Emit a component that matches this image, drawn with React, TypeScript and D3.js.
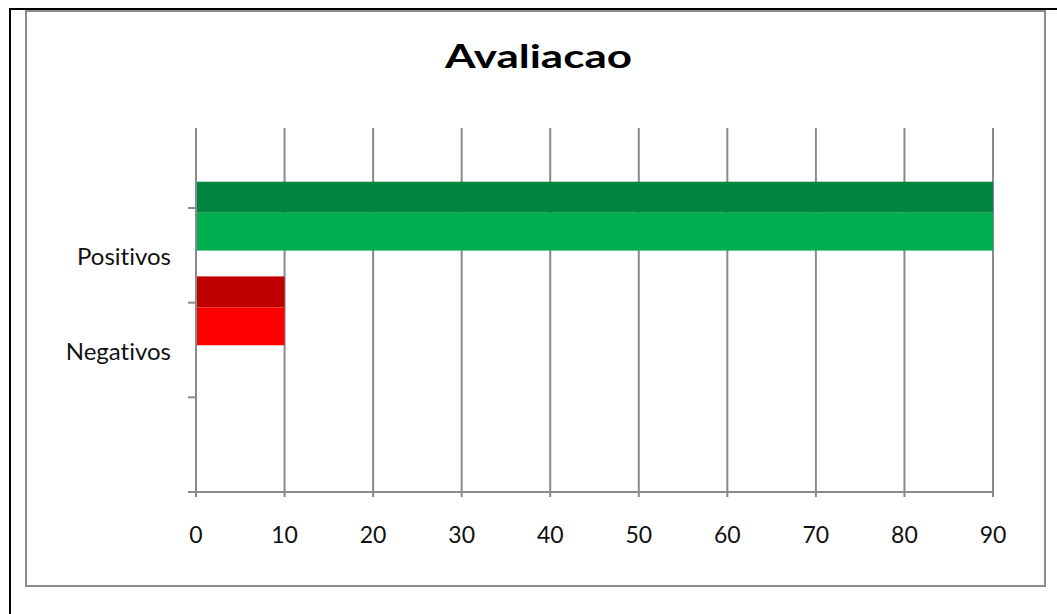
import { useEffect, useRef } from "react";
import * as d3 from "d3";

const categories = ["Positivos", "Negativos", ""];
const values = [90, 10, 0];
const frontColors = ["#00B050", "#FF0000", "#FFFFFF"];
const topColors = ["#008540", "#C00000", "#FFFFFF"];
const xTicks = [0, 10, 20, 30, 40, 50, 60, 70, 80, 90];
const title = "Avaliacao";

export default function App() {
  const chartRef = useRef<SVGSVGElement>(null);

  useEffect(() => {
    if (!chartRef.current) return;
    const width = 1057;
    const height = 614;
    const font = "Lato, 'Open Sans', sans-serif";

    const svg = d3.select(chartRef.current);
    svg.selectAll("*").remove();

    svg.append("rect").attr("width", width).attr("height", height).attr("fill", "#ffffff");

    // outer black frame (runs off the page on the right and bottom)
    svg
      .append("rect")
      .attr("x", 10)
      .attr("y", 9)
      .attr("width", 1100)
      .attr("height", 700)
      .attr("fill", "none")
      .attr("stroke", "#000000")
      .attr("stroke-width", 2);

    // chart area frame
    svg
      .append("rect")
      .attr("x", 26)
      .attr("y", 11)
      .attr("width", 1019)
      .attr("height", 575)
      .attr("fill", "#ffffff")
      .attr("stroke", "#8c8c8c")
      .attr("stroke-width", 2);

    svg
      .append("text")
      .attr("x", 538.5)
      .attr("y", 68)
      .attr("text-anchor", "middle")
      .attr("font-family", font)
      .attr("font-weight", "bold")
      .attr("font-size", 33)
      .attr("textLength", 187)
      .attr("lengthAdjust", "spacingAndGlyphs")
      .attr("fill", "#000000")
      .text(title);

    const plotTop = 128;
    const x = d3.scaleLinear().domain([0, 90]).range([196, 993]);
    const y = d3.scaleBand<string>().domain(categories).range([208, 492]);
    const bw = y.bandwidth();
    const depth = 31;

    // gridlines
    svg
      .selectAll(".grid")
      .data(xTicks)
      .enter()
      .append("line")
      .attr("x1", (d) => x(d))
      .attr("x2", (d) => x(d))
      .attr("y1", plotTop)
      .attr("y2", 497)
      .attr("stroke", "#8a8a8a")
      .attr("stroke-width", 2);

    // category axis
    svg
      .append("line")
      .attr("x1", x(0))
      .attr("x2", x(0))
      .attr("y1", plotTop)
      .attr("y2", 492)
      .attr("stroke", "#8a8a8a")
      .attr("stroke-width", 2);

    const catTicks = [...categories.map((c) => y(c) || 0), 492];
    svg
      .selectAll(".ctick")
      .data(catTicks)
      .enter()
      .append("line")
      .attr("x1", 188)
      .attr("x2", x(0))
      .attr("y1", (d) => d)
      .attr("y2", (d) => d)
      .attr("stroke", "#8a8a8a")
      .attr("stroke-width", 2);

    // value axis
    svg
      .append("line")
      .attr("x1", 188)
      .attr("x2", x(90))
      .attr("y1", 492)
      .attr("y2", 492)
      .attr("stroke", "#8a8a8a")
      .attr("stroke-width", 2);

    const data = categories.map((c, i) => ({ c, v: values[i], i }));

    // bars: darker top face + lighter front face
    svg
      .selectAll(".bar-top")
      .data(data.filter((d) => d.v > 0))
      .enter()
      .append("rect")
      .attr("x", x(0) + 1)
      .attr("y", (d) => (y(d.c) || 0) + bw * 0.05 - depth)
      .attr("width", (d) => x(d.v) - x(0) - 1)
      .attr("height", depth)
      .attr("fill", (d) => topColors[d.i]);

    svg
      .selectAll(".bar-front")
      .data(data.filter((d) => d.v > 0))
      .enter()
      .append("rect")
      .attr("x", x(0) + 1)
      .attr("y", (d) => (y(d.c) || 0) + bw * 0.05)
      .attr("width", (d) => x(d.v) - x(0) - 1)
      .attr("height", bw * 0.4)
      .attr("fill", (d) => frontColors[d.i]);

    svg
      .selectAll(".xlabel")
      .data(xTicks)
      .enter()
      .append("text")
      .attr("x", (d) => x(d))
      .attr("y", 543)
      .attr("text-anchor", "middle")
      .attr("font-family", font)
      .attr("font-size", 23)
      .attr("fill", "#111111")
      .text((d) => String(d));

    svg
      .selectAll(".ylabel")
      .data(categories)
      .enter()
      .append("text")
      .attr("x", 171)
      .attr("y", (d) => (y(d) || 0) + bw / 2 + 10)
      .attr("text-anchor", "end")
      .attr("font-family", font)
      .attr("font-size", 24)
      .style("font-variant-ligatures", "none")
      .attr("fill", "#111111")
      .text((d) => d);
  }, []);

  return (
    <svg
      ref={chartRef}
      width={1057}
      height={614}
      style={{ position: "absolute", left: 0, top: 0 }}
    />
  );
}
